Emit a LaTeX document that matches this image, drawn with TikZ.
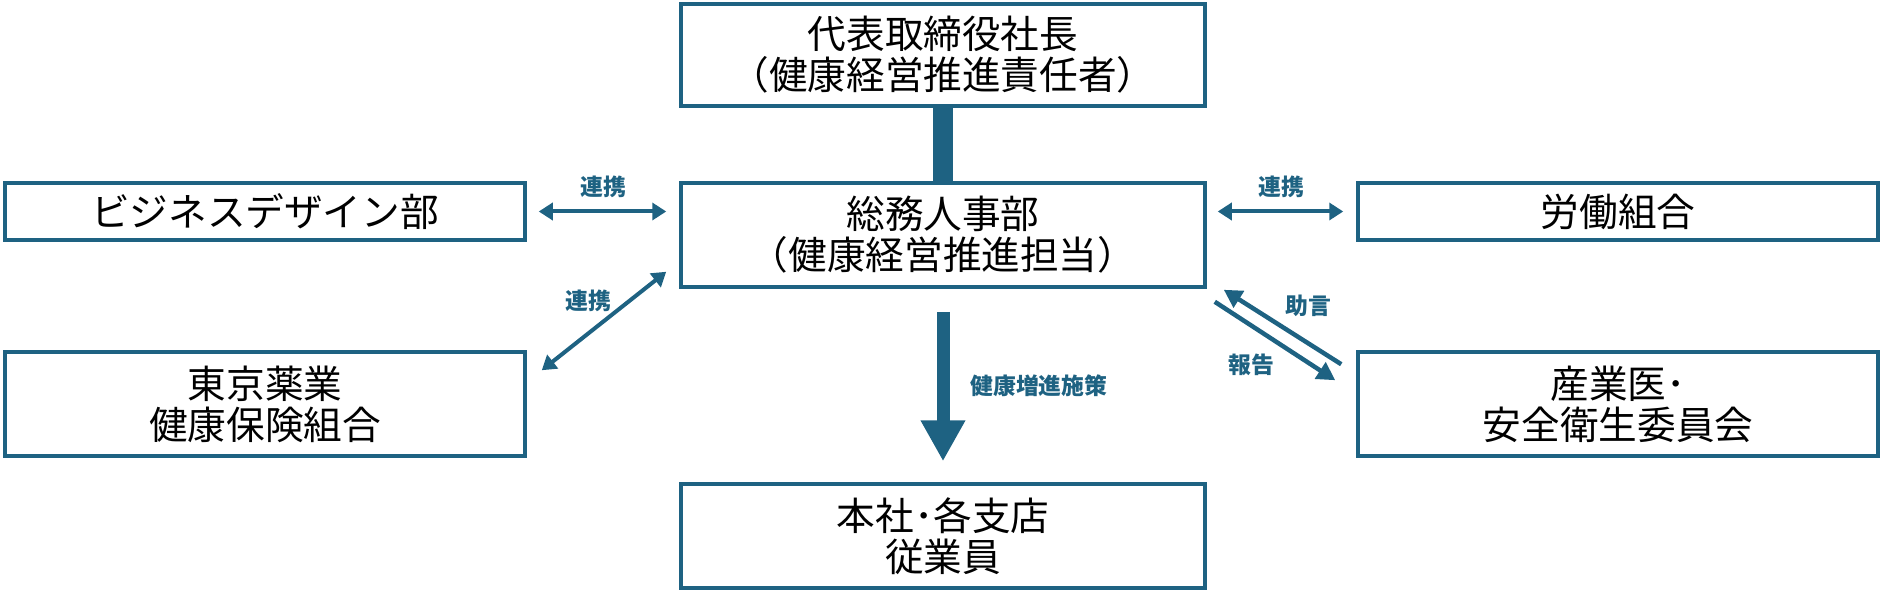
\documentclass[tikz,border=0pt]{standalone}
\usepackage{fontspec}
\setmainfont{Noto Sans CJK JP}
\usetikzlibrary{positioning, calc, arrows.meta}

\definecolor{kenblue}{RGB}{30,98,130}

\tikzset{
    box/.style={draw=kenblue, line width=0.07cm, minimum width=10.48cm, minimum height=2.08cm,
        align=center, inner sep=0pt, font=\fontsize{22}{23.3}\selectfont},
    sidebox/.style={box, minimum width=10.40cm},
    tag/.style={text=kenblue, font=\fontsize{13}{14}\selectfont\bfseries},
    linkarrow/.style={draw=kenblue, line width=0.08cm, {Triangle[width=0.34cm, length=0.28cm]}-{Triangle[width=0.34cm, length=0.28cm]}},
    onearrow/.style={draw=kenblue, line width=0.09cm, -{Triangle[width=0.38cm, length=0.36cm]}},
    bigarrow/.style={draw=kenblue, line width=0.26cm, -{Triangle[width=0.84cm, length=0.82cm]}}
}

\begin{document}
\begin{tikzpicture}
    \useasboundingbox (0,0) rectangle (37.66,-11.84);

    % Centre column
    \node[box, minimum height=2.04cm] (ceo) at (18.86,-1.10) {代表取締役社長\\（健康経営推進責任者）};
    \node[box] (hr) at (18.86,-4.70) {総務人事部\\（健康経営推進担当）};
    \node[box] (staff) at (18.86,-10.72) {本社･各支店\\従業員};

    % Left side
    \node[sidebox, minimum height=1.14cm] (design) at (5.30,-4.23) {ビジネスデザイン部};
    \node[sidebox] (kenpo) at (5.30,-8.08) {東京薬業\\健康保険組合};

    % Right side
    \node[sidebox, minimum height=1.14cm] (union) at (32.36,-4.23) {労働組合};
    \node[sidebox] (doctor) at (32.36,-8.08) {産業医･\\安全衛生委員会};

    % Stem
    \draw[kenblue, line width=0.4cm] (ceo.south) -- (hr.north);

    % Links
    \draw[linkarrow, shorten <=0.24cm, shorten >=0.26cm] (design.east) -- (design.east -| hr.west)
        node[tag, midway, above=0.12cm] (link1) {連携};
    \draw[linkarrow, shorten <=0.22cm, shorten >=0.26cm] (hr.east |- union.west) -- (union.west)
        node[tag, midway, above=0.12cm] (link2) {連携};
    \draw[linkarrow] ($(kenpo.north east)+(0.30,-0.40)$) -- ($(hr.south west)+(-0.26,0.34)$)
        node[tag, midway, above left=0.02cm and -0.3cm] (link3) {連携};

    % Advice and report
    \draw[onearrow] ($(doctor.north west)+(-0.30,-0.28)$) -- ($(hr.south east)+(0.34,-0.02)$)
        node[tag, midway, above right=0.05cm and -0.1cm] (advice) {助言};
    \draw[onearrow] ($(hr.south east)+(0.16,-0.26)$) -- ($(doctor.north west)+(-0.42,-0.60)$)
        node[tag, midway, below left=0.1cm and -0.15cm] (report) {報告};

    % Measures
    \draw[bigarrow, shorten <=0.46cm, shorten >=0.42cm] (hr.south) -- (staff.north)
        node[tag, midway, right=0.3cm] (measure) {健康増進施策};
\end{tikzpicture}
\end{document}
